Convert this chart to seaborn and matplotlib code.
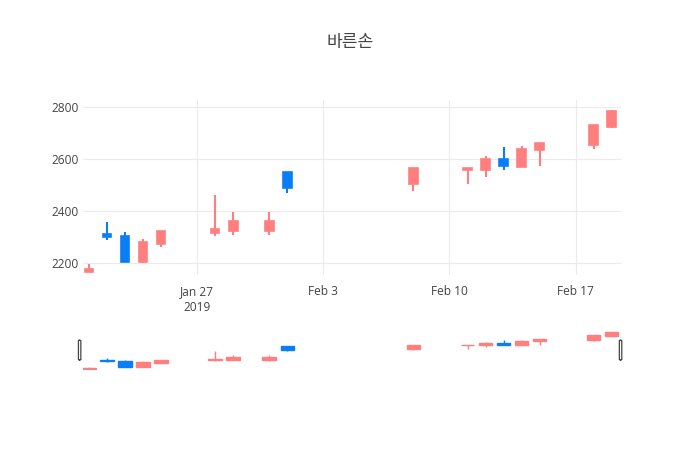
"""
Candlestick chart for 바른손 with a range-slider style overview strip.
"""

import numpy as np
import pandas as pd
import seaborn as sns
import matplotlib.pyplot as plt
import matplotlib.dates as mdates
from matplotlib.patches import FancyBboxPatch

# Daily prices
dates = ['2019-01-21', '2019-01-22', '2019-01-23', '2019-01-24', '2019-01-25',
         '2019-01-28', '2019-01-29', '2019-01-31', '2019-02-01', '2019-02-08',
         '2019-02-11', '2019-02-12', '2019-02-13', '2019-02-14', '2019-02-15',
         '2019-02-18', '2019-02-19']
open_ = [2165, 2310, 2305, 2205, 2275, 2315, 2325, 2325, 2550, 2505,
         2560, 2560, 2600, 2570, 2635, 2655, 2725]
high = [2197, 2357, 2318, 2292, 2322, 2463, 2397, 2397, 2551, 2567,
        2567, 2612, 2647, 2652, 2662, 2732, 2791]
low = [2165, 2290, 2203, 2200, 2260, 2303, 2309, 2308, 2468, 2476,
       2504, 2533, 2559, 2572, 2574, 2640, 2719]
close = [2178, 2300, 2205, 2281, 2322, 2331, 2362, 2362, 2490, 2567,
         2565, 2600, 2572, 2640, 2662, 2732, 2786]

tick_dates = ['2019-01-27', '2019-02-03', '2019-02-10', '2019-02-17']
tick_labels = ['Jan 27\n2019', 'Feb 3', 'Feb 10', 'Feb 17']
y_ticks = [2200, 2400, 2600, 2800]

UP = '#ff7f7f'
DOWN = '#0a7ff5'
TEXT = '#444444'
GRID = '#ebebeb'
FONT = ['Open Sans', 'Noto Sans CJK KR', 'DejaVu Sans']


def draw_candles(ax, df, width, wick_lw, edge_lw):
    x = mdates.date2num(df['date'])
    colors = np.where(df['close'] >= df['open'], UP, DOWN)
    ax.vlines(x, df['low'], df['high'], colors=colors, linewidth=wick_lw, zorder=3)
    bottom = np.minimum(df['open'], df['close'])
    height = np.abs(df['close'] - df['open'])
    ax.bar(x, height, bottom=bottom, width=width, color=colors,
           edgecolor=colors, linewidth=edge_lw, zorder=4)


def main():
    sns.set_style('white')
    plt.rcParams['font.family'] = FONT

    df = pd.DataFrame({'date': pd.to_datetime(dates), 'open': open_,
                       'high': high, 'low': low, 'close': close})

    fig = plt.figure(figsize=(7, 4.5), dpi=100)
    ax = fig.add_axes([83 / 700, 1 - 275 / 450, 537.7 / 700, 175 / 450])
    slider = fig.add_axes([83 / 700, 1 - 370 / 450, 537.7 / 700, 39 / 450])

    xmin = mdates.date2num(pd.Timestamp('2019-01-20 16:00'))
    xmax = mdates.date2num(pd.Timestamp('2019-02-19 12:00'))

    # Main chart
    draw_candles(ax, df, width=0.48, wick_lw=1.5, edge_lw=1.2)
    ax.set_xlim(xmin, xmax)
    ax.set_ylim(2154, 2828)
    ax.set_xticks(mdates.date2num(pd.to_datetime(tick_dates)))
    ax.set_xticklabels(tick_labels)
    ax.set_yticks(y_ticks)
    ax.grid(True, color=GRID, linewidth=0.8)
    ax.set_axisbelow(True)
    for s in ax.spines.values():
        s.set_visible(False)
    ax.tick_params(axis='both', length=0, labelsize=8.6, colors=TEXT)
    ax.tick_params(axis='x', pad=7)
    ax.tick_params(axis='y', pad=3)
    for lab in ax.get_xticklabels():
        lab.set_linespacing(1.3)

    # Overview strip
    draw_candles(slider, df, width=0.75, wick_lw=1.0, edge_lw=1.0)
    slider.set_xlim(xmin, xmax)
    slider.set_ylim(2150, 2800)
    slider.set_xticks([])
    slider.set_yticks([])
    for s in slider.spines.values():
        s.set_visible(False)
    for hx in (-0.0085, 0.9975):
        slider.add_patch(FancyBboxPatch((hx, 0.26), 0.0045, 0.5,
                                        boxstyle='round,pad=0,rounding_size=0.003',
                                        transform=slider.transAxes, clip_on=False,
                                        facecolor='white', edgecolor='#444444',
                                        linewidth=0.9, zorder=6))

    fig.text(0.5, 1 - 43 / 450, '바른손', ha='center', va='center',
             fontsize=12.3, color=TEXT, family=FONT)

    fig.savefig('out.png', dpi=100)


if __name__ == '__main__':
    main()
